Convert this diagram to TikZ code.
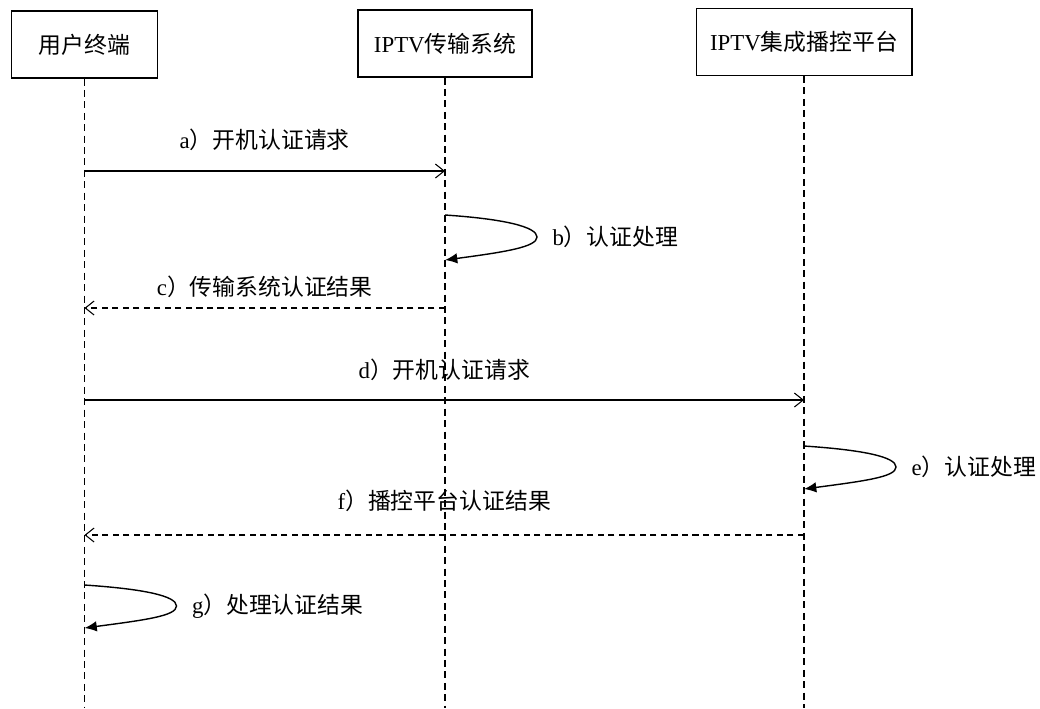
\documentclass[tikz,border=0pt]{standalone}
\usepackage{fontspec}
\setmainfont{Liberation Serif}
\newfontfamily\cjk{Noto Sans CJK SC}
\usetikzlibrary{arrows.meta,positioning}

\begin{document}
\begin{tikzpicture}[x=0.02cm,y=-0.02cm,semithick]
\fontsize{13pt}{13pt}\selectfont
\tikzstyle{ent}=[draw,minimum height=1.34cm,inner sep=0pt]
\tikzstyle{life}=[dash pattern=on 4pt off 2.5pt]
\tikzstyle{msg}=[-{Straight Barb[length=5pt,width=8pt]}]
\tikzstyle{reply}=[msg,dash pattern=on 3.5pt off 2.5pt]
\tikzstyle{self}=[thick,-{Latex[length=7pt,width=6pt]}]
\tikzstyle{lbl}=[inner sep=0pt]
	\useasboundingbox (0,0) rectangle (1040,708);

	% participants
	\node[ent,minimum width=2.92cm] (ue)  at (84.5,44.5) {\cjk 用户终端};
	\node[ent,minimum width=3.48cm] (tx)  at (445,43.5) {IPTV\cjk 传输系统};
	\node[ent,minimum width=4.32cm] (ctl) at (804,42) {IPTV\cjk 集成播控平台};

	\coordinate (ueEnd)  at (ue.south |- 0,708);
	\coordinate (txEnd)  at (tx.south |- 0,708);
	\coordinate (ctlEnd) at (ctl.south |- 0,708);
	\draw[life] (ue.south) -- (ueEnd);
	\draw[life] (tx.south) -- (txEnd);
	\draw[life] (ctl.south) -- (ctlEnd);

	% message points
	\coordinate (a1) at (ue.south |- 0,171);
	\coordinate (a2) at (tx.south |- 0,171);
	\coordinate (b1) at (tx.south |- 0,215);
	\coordinate (b2) at (tx.south |- 0,260);
	\coordinate (c1) at (tx.south |- 0,308);
	\coordinate (c2) at (ue.south |- 0,308);
	\coordinate (d1) at (ue.south |- 0,400);
	\coordinate (d2) at (ctl.south |- 0,400);
	\coordinate (e1) at (ctl.south |- 0,446);
	\coordinate (e2) at (ctl.south |- 0,489);
	\coordinate (f1) at (ctl.south |- 0,535);
	\coordinate (f2) at (ue.south |- 0,535);
	\coordinate (g1) at (ue.south |- 0,585);
	\coordinate (g2) at (ue.south |- 0,628);

	\draw[msg] (a1) -- node[lbl,above=0.4cm] (la) {a\cjk ）开机认证请求} (a2);

	\path (b1) ++(92,22) coordinate (bt);
	\draw[self] (b1) .. controls +(60,4) and +(0,-10) .. (bt) .. controls +(0,10) and +(60,-8) .. (b2);
	\node[lbl,right=0.3cm of bt] (lb) {b\cjk ）认证处理};

	\draw[reply] (c1) -- node[lbl,above=0.2cm] (lc) {c\cjk ）传输系统认证结果} (c2);

	\draw[msg] (d1) -- node[lbl,above=0.38cm] (ld) {d\cjk ）开机认证请求} (d2);

	\path (e1) ++(92,21) coordinate (et);
	\draw[self] (e1) .. controls +(60,4) and +(0,-10) .. (et) .. controls +(0,10) and +(60,-8) .. (e2);
	\node[lbl,right=0.3cm of et] (le) {e\cjk ）认证处理};

	\draw[reply] (f1) -- node[lbl,above=0.45cm] (lf) {f\cjk ）播控平台认证结果} (f2);

	\path (g1) ++(92,21) coordinate (gt);
	\draw[self] (g1) .. controls +(60,4) and +(0,-10) .. (gt) .. controls +(0,10) and +(60,-8) .. (g2);
	\node[lbl,right=0.3cm of gt] (lg) {g\cjk ）处理认证结果};
\end{tikzpicture}
\end{document}
